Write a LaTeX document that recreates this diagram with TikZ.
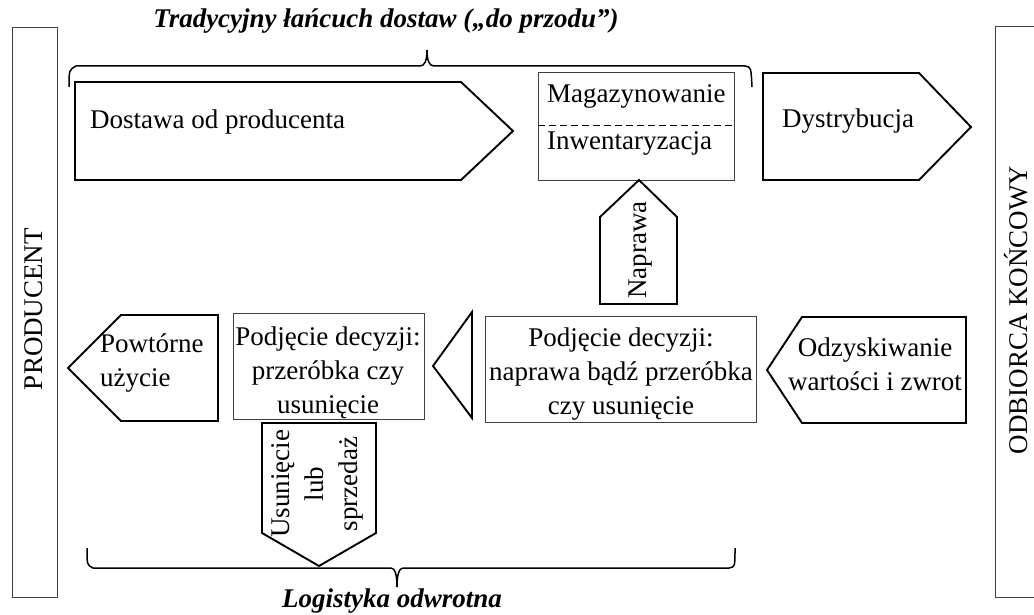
\documentclass[tikz,border=0pt]{standalone}
\usepackage{fontspec}
\setmainfont{Liberation Serif}
\tikzset{
  arrowshape/.style={draw=black, line width=1.9pt, line join=miter},
  thinbox/.style={draw=black!75, line width=1pt},
  brace/.style={draw=black, line width=1.5pt},
  lbl/.style={font=\fontsize{27}{34}\selectfont, inner sep=0pt},
  ttl/.style={font=\fontsize{27}{34}\selectfont\bfseries\itshape, inner sep=0pt},
}
\begin{document}
\begin{tikzpicture}[x=1pt,y=-1pt]
\path[use as bounding box] (0,0) rectangle (1034,615);

% side boxes
\draw[thinbox] (12,28) rectangle (57,597);
\node[lbl, rotate=90] (prod) at (34,309) {PRODUCENT};
\draw[thinbox] (995,27) rectangle (1045,597);
\node[lbl, rotate=90] (odb) at (1016,310) {ODBIORCA KOŃCOWY};

% title and top brace
\node[ttl] (title) at (386,21) {Tradycyjny łańcuch dostaw („do przodu”)};
\draw[brace] (69,87) .. controls (69,70) .. (76,66) -- (420,66)
  .. controls (425,66) and (427,60) .. (427,50)
  .. controls (427,60) and (429,66) .. (434,66) -- (745,66)
  .. controls (751,67) .. (752,87);

% Dostawa od producenta
\draw[arrowshape] (75,82) -- (461,82) -- (513,131) -- (461,180) -- (75,180) -- cycle;
\node[lbl, anchor=base west] (dostawa) at (90,129) {Dostawa od producenta};

% Magazynowanie / Inwentaryzacja
\draw[thinbox] (538,73) rectangle (734,181);
\draw[black, line width=1pt, dash pattern=on 7pt off 4pt] (538,126) -- (734,126);
\node[lbl, anchor=base west] (mag) at (547,103) {Magazynowanie};
\node[lbl, anchor=base west] (inw) at (547,150) {Inwentaryzacja};

% Dystrybucja
\draw[arrowshape] (763,73) -- (919,73) -- (971,127) -- (919,180) -- (763,180) -- cycle;
\node[lbl, anchor=base west] (dystr) at (782,128) {Dystrybucja};

% Naprawa (up arrow)
\draw[arrowshape] (600,304) -- (600,217) -- (639,180) -- (677,217) -- (677,304) -- cycle;
\node[lbl, rotate=90] (naprawa) at (641,250) {Naprawa};

% Big decision box
\draw[thinbox] (485,316) rectangle (756,422);
\node[lbl, align=center] (dec1) at (621,374) {Podjęcie decyzji:\\naprawa bądź przeróbka\\czy usunięcie};

% Odzyskiwanie
\draw[arrowshape] (966,317) -- (802,317) -- (767,370) -- (802,423) -- (966,423) -- cycle;
\node[lbl, align=center] (odz) at (875,364) {Odzyskiwanie\\wartości i zwrot};

% Triangle
\draw[arrowshape] (472,312) -- (433,366) -- (472,418) -- cycle;

% Small decision box
\draw[thinbox] (233,313) rectangle (424,419);
\node[lbl, align=center] (dec2) at (328,373) {Podjęcie decyzji:\\przeróbka czy\\usunięcie};

% Powtórne użycie
\draw[arrowshape] (218,315) -- (121,315) -- (68,368) -- (121,421) -- (218,421) -- cycle;
\node[lbl, align=left, anchor=west] (powt) at (100,363) {Powtórne\\użycie};

% Usunięcie lub sprzedaż (down arrow)
\draw[arrowshape] (262,423) -- (376,423) -- (376,533) -- (319,566) -- (262,533) -- cycle;
\node[lbl, align=center, rotate=90] (usun) at (317,484) {Usunięcie\\lub\\sprzedaż};

% bottom brace
\draw[brace] (87,548) .. controls (87,565) .. (93,568) -- (391,568)
  .. controls (395,568) and (397,575) .. (397,587)
  .. controls (397,575) and (399,568) .. (403,568) -- (729,568)
  .. controls (735,567) .. (735,548);
\node[ttl, anchor=base] (logi) at (392,607) {Logistyka odwrotna};
\end{tikzpicture}
\end{document}
